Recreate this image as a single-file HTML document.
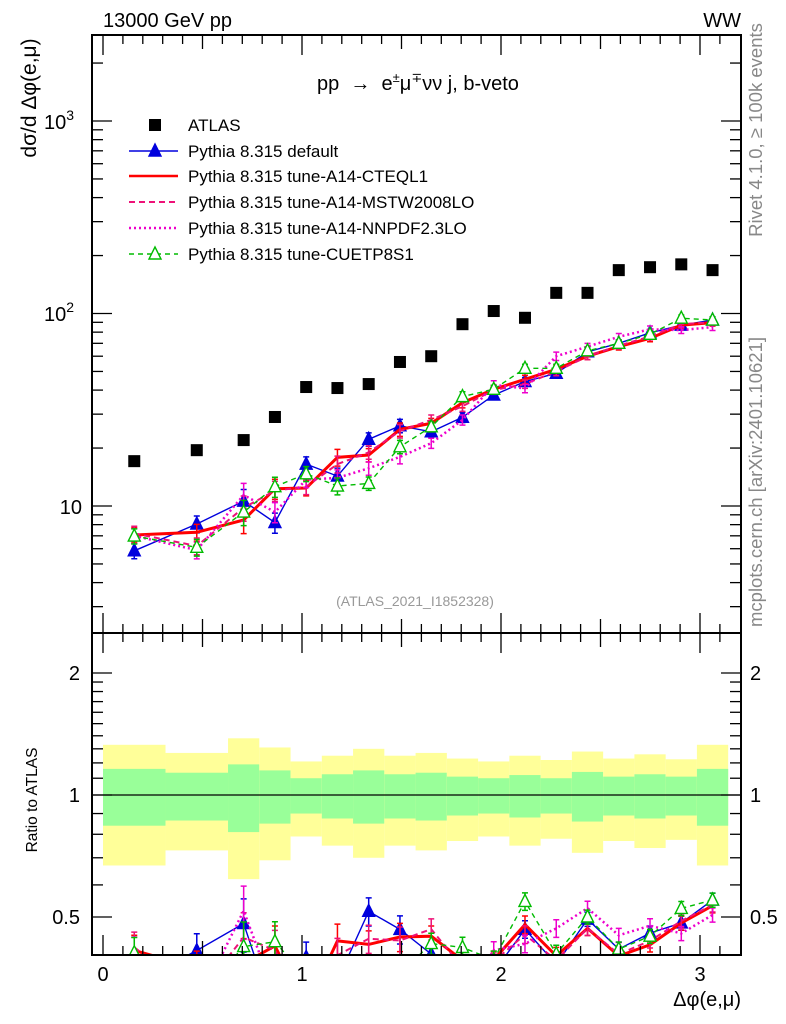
<!DOCTYPE html>
<html><head><meta charset="utf-8"><style>
html,body{margin:0;padding:0;background:#fff;}
svg{display:block;font-family:"Liberation Sans",sans-serif;}
</style></head><body>
<svg id="chart" width="786" height="1024" viewBox="0 0 786 1024">
<defs>
<clipPath id="clipMain"><rect x="92" y="35" width="649" height="598"/></clipPath>
<clipPath id="clipRatio"><rect x="92" y="633" width="649" height="322"/></clipPath>
</defs>
<g id="bands" clip-path="url(#clipRatio)"></g>
<g id="series"></g>
<g id="axes"></g>
<text x="103" y="27" font-size="20">13000 GeV pp</text>
<text x="741" y="27" font-size="20" text-anchor="end">WW</text>
<text x="418" y="90" font-size="20" text-anchor="middle" xml:space="preserve">pp  →  e<tspan font-size="13" dy="-8">±</tspan><tspan dy="8">μ</tspan><tspan font-size="13" dy="-8">∓</tspan><tspan dy="8">νν j, b-veto</tspan></text>
<text x="415" y="606" font-size="14" fill="#999" text-anchor="middle">(ATLAS_2021_I1852328)</text>
<text transform="translate(762,130) rotate(-90)" font-size="18.5" fill="#888" text-anchor="middle">Rivet 4.1.0, ≥ 100k events</text>
<text transform="translate(762,482) rotate(-90)" font-size="18.5" fill="#888" text-anchor="middle">mcplots.cern.ch [arXiv:2401.10621]</text>
<text transform="translate(36,98) rotate(-90)" font-size="21" text-anchor="middle">dσ/d Δφ(e,μ)</text>
<text transform="translate(37,800) rotate(-90)" font-size="15.5" text-anchor="middle">Ratio to ATLAS</text>
<text x="741" y="1006" font-size="20" text-anchor="end">Δφ(e,μ)</text>
<g id="legend"></g>
</svg>
<script>
const binEdges=[0,0.3142,0.6283,0.7854,0.9425,1.0996,1.2566,1.4137,1.5708,1.7279,1.885,2.042,2.1991,2.3562,2.5133,2.6704,2.8274,2.9845,3.1416];
const atlasValues=[17.1,19.5,22,29,41.5,41,43,56,60,88,103,95,128,128,168,174,180,168];
const innerErr=[.16,.135,.19,.15,.10,.125,.15,.125,.135,.11,.10,.12,.10,.14,.11,.125,.11,.16];
const outerErr=[.33,.27,.38,.31,.21,.25,.30,.25,.27,.23,.21,.25,.22,.28,.23,.26,.225,.33];
const defaultValues=[5.85,8.06,10.6,8.2,16.5,14.3,22.2,26.1,24.3,28.9,37.7,44.3,48.9,63.2,70,79.4,87,92.5];
const cteqValues=[7.07,7.3,8.46,12.3,12.4,17.9,18.4,25.0,26.9,34.4,40.4,45.5,51.3,60,67.3,74.3,87,89.6];
const mstwValues=[7.2,6.2,9.8,12.0,12.6,16.5,19.0,24.5,28,33,40,43,50,60,68,76,88,90];
const nnpdfValues=[7.0,5.9,11.4,9.3,13.7,14,15.7,18,21.2,28,42.6,40.8,60,67.3,75.7,82.8,82,85];
const cuetpValues=[6.98,6.1,9.3,12.6,14.7,12.7,13.1,20.3,25.8,37,40.4,51.9,51.9,64,70,78,94.5,92.5];
const mcErr=[.09,.1,.15,.12,.09,.1,.08,.08,.06,.06,.05,.05,.05,.04,.04,.04,.04,.04];
const legendLabels=["ATLAS","Pythia 8.315 default","Pythia 8.315 tune-A14-CTEQL1","Pythia 8.315 tune-A14-MSTW2008LO","Pythia 8.315 tune-A14-NNPDF2.3LO","Pythia 8.315 tune-CUETP8S1"];

const NS="http://www.w3.org/2000/svg";
const X0=92,X1=741,MT=35,MB=633,RB=955;
const xs=v=>103+v*199;
const ys=v=>506-(Math.log10(v)-1)*192.5;
const rs=r=>795-Math.log2(r)*122;
function mk(tag,attrs,parent){const e=document.createElementNS(NS,tag);for(const k in attrs)e.setAttribute(k,attrs[k]);parent.appendChild(e);return e;}
const axes=document.getElementById('axes');
const bands=document.getElementById('bands');
const series=document.getElementById('series');
const legend=document.getElementById('legend');
const centers=atlasValues.map((_,i)=>(binEdges[i]+binEdges[i+1])/2);

for(let i=0;i<atlasValues.length;i++){
  const xa=xs(binEdges[i]),xb=xs(binEdges[i+1]);
  const y1=mk('rect',{x:xa,y:rs(1+outerErr[i]),width:xb-xa,height:rs(1-outerErr[i])-rs(1+outerErr[i]),fill:'#ffff99'},bands);
  
  
  const g1=mk('rect',{x:xa,y:rs(1+innerErr[i]),width:xb-xa,height:rs(1-innerErr[i])-rs(1+innerErr[i]),fill:'#99ff99'},bands);
  
  
}
const unity=mk('line',{x1:X0,x2:X1,y1:rs(1),y2:rs(1),stroke:'#000','stroke-width':1.3},bands);



const defs=[
 {vals:defaultValues,color:'#0000dd',w:1.4,dash:'',marker:'tri-fill',name:'series-default'},
 {vals:cteqValues,color:'#ff0000',w:3,dash:'',marker:'none',name:'series-a14-cteql1'},
 {vals:mstwValues,color:'#ee1177',w:2,dash:'6,4',marker:'none',name:'series-a14-mstw2008lo'},
 {vals:nnpdfValues,color:'#ee00cc',w:2.5,dash:'2,3',marker:'none',name:'series-a14-nnpdf23lo'},
 {vals:cuetpValues,color:'#00bb00',w:1.4,dash:'5,4',marker:'tri-open',name:'series-cuetp8s1'}
];
function tri(g,x,y,c,fill){return mk('polygon',{points:`${x},${y-7} ${x-6},${y+5} ${x+6},${y+5}`,fill:fill?c:'#fff',stroke:c,'stroke-width':1.4},g);}
function drawSeries(s,panel){
  const clip=panel==='main'?'url(#clipMain)':'url(#clipRatio)';
  const g=mk('g',{'clip-path':clip},series);
  
  
  const yf=panel==='main'?(i=>ys(s.vals[i])):(i=>rs(s.vals[i]/atlasValues[i]));
  const yfe=panel==='main'?((i,f)=>ys(s.vals[i]*f)):((i,f)=>rs(s.vals[i]*f/atlasValues[i]));
  const pts=centers.map((c,i)=>xs(c)+','+yf(i)).join(' ');
  const pl=mk('polyline',{points:pts,fill:'none',stroke:s.color,'stroke-width':s.w,'stroke-dasharray':s.dash},g);
  
  
  centers.forEach((c,i)=>{
    const x=xs(c),ya=yfe(i,1+mcErr[i]),yb=yfe(i,1-mcErr[i]);
    const e=mk('path',{d:`M${x},${ya}V${yb}M${x-3},${ya}H${x+3}M${x-3},${yb}H${x+3}`,stroke:s.color,'stroke-width':1.5,fill:'none'},g);
    
    
    if(s.marker!=='none'){
      const m=tri(g,x,yf(i),s.color,s.marker==='tri-fill');
      
      
    }
  });
}
defs.forEach(s=>{drawSeries(s,'main');drawSeries(s,'ratio');});
const ga=mk('g',{'clip-path':'url(#clipMain)'},series);


centers.forEach((c,i)=>{
  const r=mk('rect',{x:xs(c)-6,y:ys(atlasValues[i])-6,width:12,height:12,fill:'#000'},ga);
  
  
});

[[MT,MB],[MB,RB]].forEach(([t,b])=>{
  const f=mk('rect',{x:X0,y:t,width:X1-X0,height:b-t,fill:'none',stroke:'#000','stroke-width':2},axes);
  
  
});
function tick(x1,y1,x2,y2){mk('line',{x1,y1,x2,y2,stroke:'#000','stroke-width':1.3},axes);}
for(let k=0;k<=31;k++){
  const v=k/10,x=xs(v);if(x>X1)break;
  const L=k%10===0?20:(k%5===0?14:9);
  [[MT,1],[MB,-1],[MB,1],[RB,-1]].forEach(([y,d])=>tick(x,y,x,y+d*L));
}
[0,1,2,3].forEach(v=>{
  const t=mk('text',{x:xs(v),y:981,'font-size':20,'text-anchor':'middle'},axes);t.textContent=v;
  
  
});
for(let d=0;d<=3;d++){for(let m=1;m<=9;m++){const v=m*Math.pow(10,d);const y=ys(v);if(y<MT||y>MB)continue;
  const L=m===1?20:11;tick(X0,y,X0+L,y);tick(X1,y,X1-L,y);}}
[['10',506,''],['10',313,'2'],['10',121,'3']].forEach(([b,y,e])=>{
  const t=mk('text',{x:e?74:82,y:y+8,'font-size':20,'text-anchor':'end'},axes);
  t.textContent=b;
  if(e){const s=document.createElementNS(NS,'tspan');s.setAttribute('font-size','14');s.setAttribute('dy','-9');s.textContent=e;t.appendChild(s);}
  
  
});
[0.5,0.6,0.7,0.8,0.9,1,1.1,1.2,1.3,1.4,1.5,1.6,1.7,1.8,1.9,2].forEach(v=>{
  const y=rs(v),L=(v===0.5||v===1||v===2)?20:11;tick(X0,y,X0+L,y);tick(X1,y,X1-L,y);});
[[2,'2'],[1,'1'],[0.5,'0.5']].forEach(([v,l])=>{
  const a=mk('text',{x:80,y:rs(v)+7,'font-size':20,'text-anchor':'end'},axes);a.textContent=l;
  
  
  const b=mk('text',{x:750,y:rs(v)+7,'font-size':20},axes);b.textContent=l;
  
  
});

const legRows=[125,151,176,202,228,254];
const legStyles=[{t:'sq'},defs[0],defs[1],defs[2],defs[3],defs[4]];
legendLabels.forEach((lab,i)=>{
  const y=legRows[i];
  const g=mk('g',{},legend);
  
  
  const s=legStyles[i];
  if(s.t==='sq'){mk('rect',{x:149,y:y-6,width:12,height:12,fill:'#000'},g);}
  else{
    mk('line',{x1:129,x2:178,y1:y,y2:y,stroke:s.color,'stroke-width':Math.min(s.w,2.5),'stroke-dasharray':s.dash},g);
    if(s.marker!=='none')tri(g,155,y,s.color,s.marker==='tri-fill');
  }
  const t=mk('text',{x:188,y:y+6,'font-size':17},g);t.textContent=lab;
});
</script>
</body></html>
